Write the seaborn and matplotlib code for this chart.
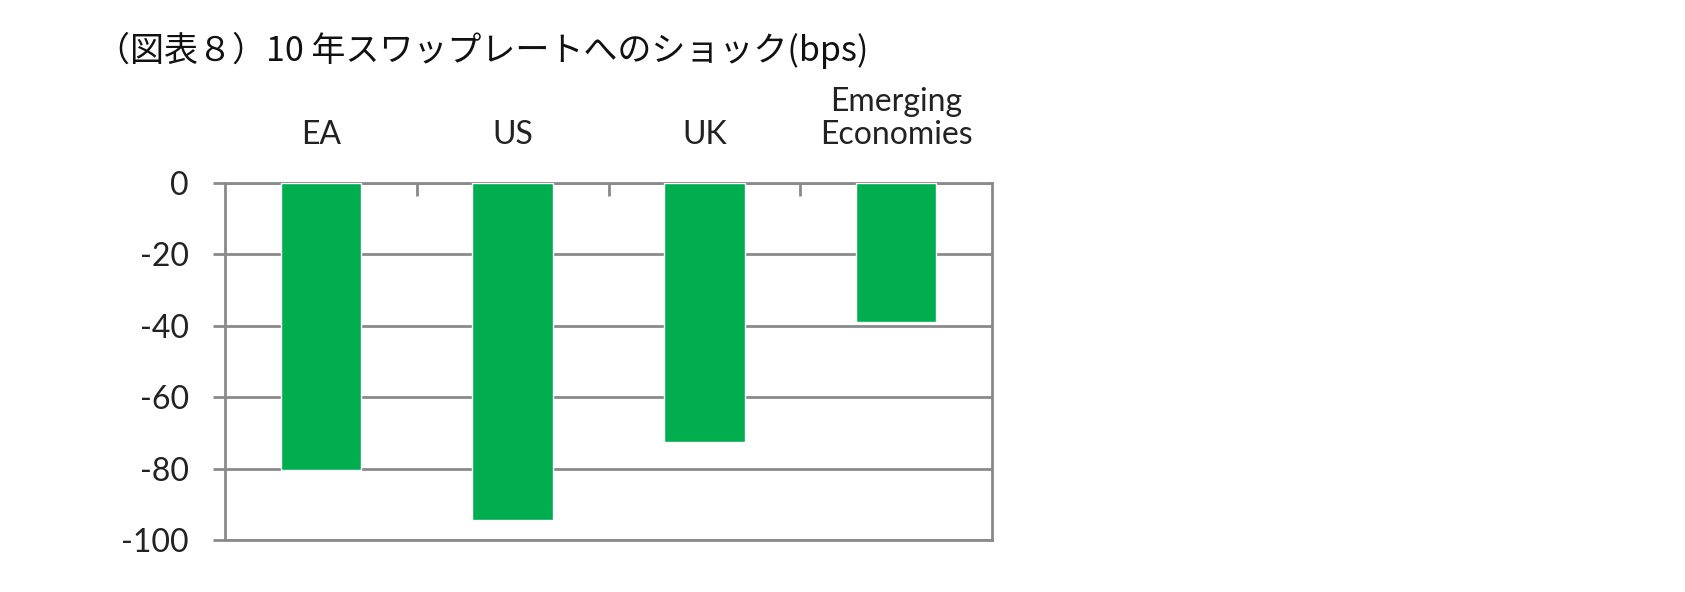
import matplotlib
matplotlib.use('Agg')
import matplotlib.pyplot as plt
import seaborn as sns
import pandas as pd
from matplotlib.ticker import FixedLocator

# data
regions = ['EA', 'US', 'UK', 'Emerging\nEconomies']
shock_bps = [-80.5, -94.5, -72.5, -39.0]
y_ticks = [0, -20, -40, -60, -80, -100]
title = '（図表８）10 年スワップレートへのショック(bps)'

green = '#00AD4F'
grey = '#8A8A8A'

sns.set_style('white')
plt.rcParams['font.family'] = ['Lato', 'DejaVu Sans']

df = pd.DataFrame({'region': regions, 'shock': shock_bps})

fig = plt.figure(figsize=(16.85, 5.92), dpi=100)
ax = fig.add_axes([225 / 1685, 1 - 540 / 592, 767 / 1685, 357 / 592])

sns.barplot(data=df, x='region', y='shock', color=green, width=0.42,
            saturation=1, ax=ax, zorder=3)

ax.set_xlim(-0.5, len(regions) - 0.5)
ax.set_ylim(-100, 0)
ax.set_yticks(y_ticks)
ax.set_yticklabels([str(v) for v in y_ticks])
ax.set_xlabel(None)
ax.set_ylabel(None)

# grid + frame in Excel grey
ax.yaxis.grid(True, color=grey, linewidth=2.0, zorder=0)
ax.xaxis.grid(False)
for s in ax.spines.values():
    s.set_color(grey)
    s.set_linewidth(2.0)

# category labels above the zero line, small ticks at category borders
ax.xaxis.set_ticks_position('top')
ax.xaxis.set_label_position('top')
ax.tick_params(axis='x', which='major', length=0, pad=24, labelsize=23,
               labelcolor='#222222')
ax.xaxis.set_minor_locator(FixedLocator([0.5, 1.5, 2.5]))
ax.tick_params(axis='x', which='minor', direction='in', length=9,
               width=2.0, color=grey, top=True, bottom=False)
for lab in ax.get_xticklabels():
    lab.set_linespacing(1.1)

ax.tick_params(axis='y', which='major', direction='out', length=9,
               width=2.0, color=grey, pad=17, labelsize=23,
               labelcolor='#222222', left=True)

fig.text(96 / 1685, 1 - 50 / 592, title, ha='left', va='center',
         fontsize=24.5, color='#111111',
         family=['Noto Sans CJK JP', 'DejaVu Sans'])

plt.savefig('out.png', dpi=100, facecolor='white')
